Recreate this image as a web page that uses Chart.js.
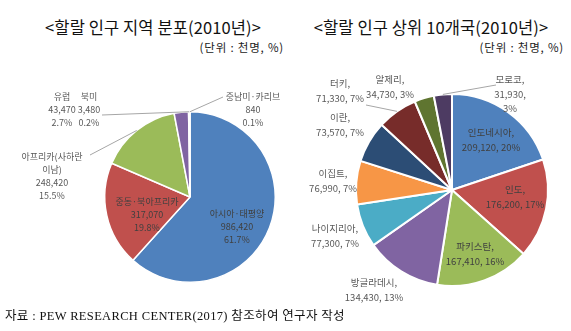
<!DOCTYPE html>
<html>
<head>
<meta charset="utf-8">
<script src="https://cdn.jsdelivr.net/npm/chart.js@4"></script>
<style>
  body { margin: 0; background: #fff; }
  #wrap { position: relative; width: 571px; height: 331px; overflow: hidden; font-family: "Noto Sans CJK KR", sans-serif; }
  canvas { position: absolute; top: 0; }
  .title { position: absolute; top: 15px; font-size: 16.5px; letter-spacing: 0.1px; color: #111; white-space: nowrap; transform: translateX(-50%); }
  .unit { position: absolute; top: 39px; font-size: 11.5px; letter-spacing: 0.8px; color: #222; white-space: nowrap; transform: translateX(-100%); }
  .source { position: absolute; left: 5px; top: 305px; font-size: 12.5px; letter-spacing: 0.35px; color: #111; white-space: nowrap; font-family: "Liberation Serif", "Noto Sans CJK KR", serif; }
</style>
</head>
<body>
<div id="wrap">
  <div class="title" style="left:153px">&lt;할랄 인구 지역 분포(2010년)&gt;</div>
  <div class="unit" style="left:284px">(단위 : 천명, %)</div>
  <div class="title" style="left:431px">&lt;할랄 인구 상위 10개국(2010년)&gt;</div>
  <div class="unit" style="left:564px">(단위 : 천명, %)</div>
  <canvas id="regionChart" width="285" height="331" style="left:0"></canvas>
  <canvas id="countryChart" width="286" height="331" style="left:285px"></canvas>
  <div class="source">자료 : PEW RESEARCH CENTER(2017) 참조하여 연구자 작성</div>
</div>
<script>
// Left pie: regions
const regionLabels = ['아시아·태평양', '중동·북아프리카', '아프리카(사하란\n이남)', '유럽', '북미', '중남미·카리브'];
const regionValues = [986420, 317070, 248420, 43470, 3480, 840];
const regionShares = ['61.7%', '19.8%', '15.5%', '2.7%', '0.2%', '0.1%'];

// Right pie: top 10 countries
const countryLabels = ['인도네시아', '인도', '파키스탄', '방글라데시', '나이지리아', '이집트', '이란', '터키', '알제리', '모로코'];
const countryValues = [209120, 176200, 167410, 134430, 77300, 76990, 73570, 71330, 34730, 31930];
const countryShares = ['20%', '17%', '16%', '13%', '7%', '7%', '7%', '7%', '3%', '3%'];

const fmt = v => v.toLocaleString('en-US');

// label placement relative to pie centre (px); line = start of leader line
const regionPlace = [
  { dx: 47, dy: 30 },
  { dx: -43, dy: 18 },
  { dx: -138, dy: -21, line: [-100, -42] },
  { dx: -128, dy: -87 },
  { dx: -101, dy: -87, line: [-88, -82] },
  { dx: 63, dy: -87, line: [33, -100] }
];
const countryPlace = [
  { dx: 39, dy: -50 },
  { dx: 63, dy: 7 },
  { dx: 23, dy: 64 },
  { dx: -78, dy: 100 },
  { dx: -117, dy: 46 },
  { dx: -119, dy: -9 },
  { dx: -112, dy: -65 },
  { dx: -112, dy: -99, line: [-86, -85] },
  { dx: -62, dy: -103 },
  { dx: 58, dy: -96, line: [44, -105] }
];

function labelPlugin(place, textFn, lineH, font) {
  return {
    id: 'sliceLabels',
    afterDatasetsDraw(chart) {
      const ctx = chart.ctx;
      const meta = chart.getDatasetMeta(0);
      const cx = meta.data[0].x, cy = meta.data[0].y;
      ctx.save();
      ctx.font = font;
      ctx.textAlign = 'center';
      ctx.textBaseline = 'middle';
      place.forEach((p, i) => {
        const arc = meta.data[i];
        if (p.line) {
          const mid = (arc.startAngle + arc.endAngle) / 2;
          ctx.strokeStyle = '#a6a6a6';
          ctx.lineWidth = 1;
          ctx.beginPath();
          ctx.moveTo(cx + p.line[0], cy + p.line[1]);
          ctx.lineTo(cx + Math.cos(mid) * arc.outerRadius, cy + Math.sin(mid) * arc.outerRadius);
          ctx.stroke();
        }
        ctx.fillStyle = p.line || Math.hypot(p.dx, p.dy) > arc.outerRadius ? '#595959' : '#404040';
        const lines = textFn(i);
        const y0 = cy + p.dy - (lines.length - 1) * lineH / 2;
        lines.forEach((t, k) => ctx.fillText(t, cx + p.dx, y0 + k * lineH));
      });
      ctx.restore();
    }
  };
}

const baseOptions = pad => ({
  responsive: false,
  animation: false,
  layout: { padding: pad },
  plugins: { legend: { display: false }, tooltip: { enabled: false } }
});

new Chart(document.getElementById('regionChart'), {
  type: 'pie',
  data: {
    labels: regionLabels,
    datasets: [{
      data: regionValues,
      backgroundColor: ['#4F81BD', '#C0504D', '#9BBB59', '#8064A2', '#4BACC6', '#F79646'],
      borderColor: '#fff',
      borderWidth: 1.5
    }]
  },
  options: baseOptions({ left: 104, right: 9, top: 111, bottom: 48 }),
  plugins: [labelPlugin(regionPlace,
    i => regionLabels[i].split('\n').concat([fmt(regionValues[i]), regionShares[i]]),
    13, '9px "Noto Sans CJK KR"')]
});

new Chart(document.getElementById('countryChart'), {
  type: 'pie',
  data: {
    labels: countryLabels,
    datasets: [{
      data: countryValues,
      backgroundColor: ['#4F81BD', '#C0504D', '#9BBB59', '#8064A2', '#4BACC6', '#F79646',
                        '#2C4D75', '#772C2A', '#5F7530', '#4D3B62'],
      borderColor: '#fff',
      borderWidth: 2
    }]
  },
  options: baseOptions({ left: 70, right: 22, top: 93, bottom: 44 }),
  plugins: [labelPlugin(countryPlace,
    i => i === 9
      ? [countryLabels[i] + ',', fmt(countryValues[i]) + ',', countryShares[i]]
      : [countryLabels[i] + ',', fmt(countryValues[i]) + ', ' + countryShares[i]],
    14.5, '9.5px "Noto Sans CJK KR"')]
});
</script>
</body>
</html>
